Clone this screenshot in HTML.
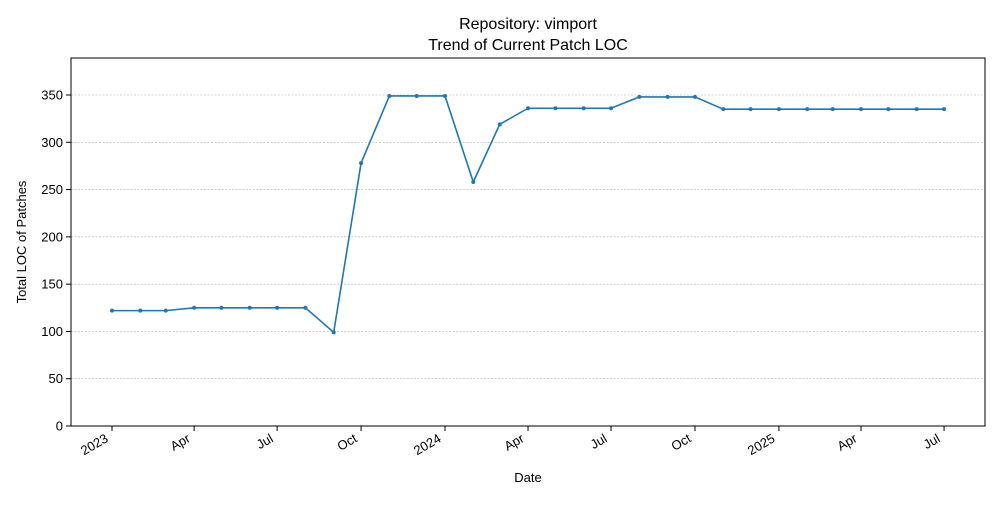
<!DOCTYPE html>
<html><head><meta charset="utf-8"><style>
body{margin:0;background:#fff;font-family:"Liberation Sans",sans-serif}
svg text{font-family:"Liberation Sans",sans-serif;fill:#000}
</style></head><body>
<svg width="1000" height="500">
<rect x="0" y="0" width="1000" height="500" fill="#fff"/>
<text x="528" y="29" font-size="16" text-anchor="middle">Repository: vimport</text>
<text x="528" y="50" font-size="16" text-anchor="middle">Trend of Current Patch LOC</text>
<g id="grid"></g>
<g id="axes"></g>
<g id="series"></g>
<rect x="71" y="58" width="914" height="368" fill="none" stroke="#000" stroke-width="1"/>
<text x="528" y="482" font-size="13" text-anchor="middle">Date</text>
<text transform="translate(26,242) rotate(-90)" font-size="13" text-anchor="middle">Total LOC of Patches</text>
</svg>
<script>
const dates=["2023-01-01","2023-02-01","2023-03-01","2023-04-01","2023-05-01","2023-06-01","2023-07-01","2023-08-01","2023-09-01","2023-10-01","2023-11-01","2023-12-01","2024-01-01","2024-02-01","2024-03-01","2024-04-01","2024-05-01","2024-06-01","2024-07-01","2024-08-01","2024-09-01","2024-10-01","2024-11-01","2024-12-01","2025-01-01","2025-02-01","2025-03-01","2025-04-01","2025-05-01","2025-06-01","2025-07-01"];
const values=[122,122,122,125,125,125,125,125,99,278,349,349,349,258,319,336,336,336,336,348,348,348,335,335,335,335,335,335,335,335,335];
const yTicks=[0,50,100,150,200,250,300,350];
const xTickDates=["2023-01-01","2023-04-01","2023-07-01","2023-10-01","2024-01-01","2024-04-01","2024-07-01","2024-10-01","2025-01-01","2025-04-01","2025-07-01"];
const xTickLabels=["2023","Apr","Jul","Oct","2024","Apr","Jul","Oct","2025","Apr","Jul"];
const NS="http://www.w3.org/2000/svg";
const t0=Date.UTC(2023,0,1);
function X(d){return 112+(Date.parse(d+"T00:00:00Z")-t0)/86400000*(333/365);}
function Y(v){return 426-v*(331/350);}
function mk(tag,attrs,parent){const e=document.createElementNS(NS,tag);for(const k in attrs)e.setAttribute(k,attrs[k]);parent.appendChild(e);return e;}
const grid=document.getElementById('grid'),axes=document.getElementById('axes'),series=document.getElementById('series');
yTicks.forEach(v=>{
 const y=Y(v);
 if(v>0){const g=mk('line',{x1:71,x2:985,y1:y,y2:y,stroke:'#b0b0b0','stroke-width':0.6,'stroke-dasharray':'2,1.5'},grid);
 
 }
 const tk=mk('line',{x1:66,x2:71,y1:y,y2:y,stroke:'#000'},axes);
 
 
 const t=mk('text',{x:63,y:y+4.5,'font-size':13,'text-anchor':'end'},axes);t.textContent=v;
 
 
});
xTickDates.forEach((d,i)=>{
 const x=X(d);
 const tk=mk('line',{x1:x,x2:x,y1:426,y2:431,stroke:'#000'},axes);
 
 
 const t=mk('text',{x:0,y:0,'font-size':13,'text-anchor':'end',transform:`translate(${x-3},${441}) rotate(-30)`},axes);
 t.textContent=xTickLabels[i];
 
 
});
const pts=dates.map((d,i)=>X(d)+','+Y(values[i])).join(' ');
const line=mk('polyline',{points:pts,fill:'none',stroke:'#1f77b4','stroke-width':1.6},series);


dates.forEach((d,i)=>{
 const c=mk('circle',{cx:X(d),cy:Y(values[i]),r:2,fill:'#1f77b4'},series);
 
 
});
</script>
</body></html>
